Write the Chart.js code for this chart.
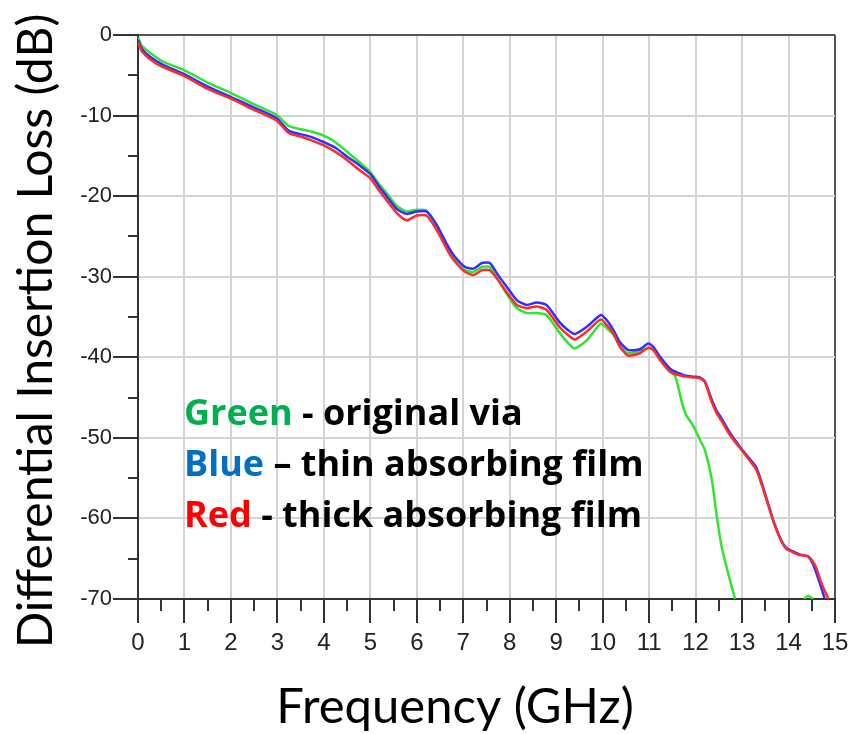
<!DOCTYPE html>
<html>
<head>
<meta charset="utf-8">
<title>Differential Insertion Loss</title>
<script src="https://cdn.jsdelivr.net/npm/chart.js@4.4.0/dist/chart.umd.min.js"></script>
<style>
  html, body { margin: 0; padding: 0; background: #fff; overflow: hidden; }
  #wrap { width: 848px; height: 734px; }
  canvas { display: block; }
</style>
</head>
<body>
<div id="wrap"><canvas id="myChart" width="848" height="734"></canvas></div>
<script>
// frequency sweep points (GHz)
const freqGHz = [0, 0.08, 0.26, 0.54, 0.97, 1.5, 2.0, 2.5, 2.98, 3.25, 3.5, 3.75, 4.0, 4.25, 4.5, 4.75,
    5.0, 5.2, 5.35, 5.57, 5.78, 6.0, 6.21, 6.43, 6.64, 6.79, 7.04, 7.22, 7.4, 7.57, 7.75, 7.93, 8.15,
    8.36, 8.58, 8.79, 9.08, 9.25, 9.4, 9.66, 9.96, 10.09, 10.23, 10.37, 10.55, 10.8, 10.98, 11.09, 11.23,
    11.45, 11.57, 11.7, 11.8, 11.95, 12.09, 12.2, 12.35, 12.45, 12.56, 12.7, 12.85, 12.99, 13.15, 13.31,
    13.5, 13.67, 13.85, 13.96, 14.1, 14.21, 14.33, 14.42, 14.53, 14.6, 14.7, 14.78, 14.86];

// insertion loss in dB (null = below the -70 dB floor)
const originalVia = [-0.3, -1.3, -2.2, -3.3, -4.3, -5.9, -7.2, -8.6, -9.9, -11.3, -11.7, -12.0, -12.5, -13.3, -14.5, -15.7,
    -17.0, -18.6, -19.6, -21.2, -21.9, -21.7, -21.8, -23.6, -26.1, -27.6, -29.2, -29.4, -28.8, -28.8, -30.4, -32.1, -33.9,
    -34.5, -34.5, -34.75, -37.0, -38.2, -38.9, -37.9, -35.8, -36.4, -37.2, -38.5, -39.5, -39.2, -38.9, -39.0, -40.1,
    -41.6, -42.5, -45.5, -47.2, -48.5, -50.2, -51.5, -55.2, -59.5, -63.5, -66.8, -70, null, null, null,
    null, null, null, null, null, null, -70, -69.6, -70, null, null, null, null];

const thinFilm = [-0.6, -1.7, -2.7, -3.7, -4.8, -6.4, -7.7, -9.0, -10.3, -11.9, -12.3, -12.7, -13.3, -14.0, -15.1, -16.1,
    -17.25, -18.9, -20.0, -21.6, -22.2, -21.9, -21.9, -23.6, -25.9, -27.3, -28.8, -29.0, -28.3, -28.3, -29.8, -31.2, -32.9,
    -33.5, -33.2, -33.5, -35.7, -36.6, -37.1, -36.2, -34.75, -35.4, -36.6, -38.1, -39.1, -39.0, -38.3, -38.7, -39.9,
    -41.4, -41.8, -42.1, -42.3, -42.4, -42.5, -43.0, -45.3, -46.6, -47.6, -49.0, -50.3, -51.4, -52.5, -53.7,
    -57.0, -60.2, -62.8, -63.7, -64.1, -64.4, -64.6, -64.7, -65.7, -66.8, -68.5, -70, null];

const thickFilm = [-0.9, -2.0, -3.0, -4.0, -5.0, -6.7, -7.9, -9.3, -10.6, -12.2, -12.6, -13.1, -13.7, -14.5, -15.5, -16.7,
    -17.8, -19.4, -20.5, -22.1, -23.0, -22.4, -22.4, -24.2, -26.5, -27.9, -29.4, -29.8, -29.2, -29.2, -30.4, -31.9, -33.5,
    -33.9, -33.7, -34.1, -36.3, -37.2, -37.8, -36.8, -35.3, -36.0, -37.0, -38.7, -39.8, -39.5, -38.8, -39.1, -40.3,
    -41.8, -42.1, -42.3, -42.4, -42.5, -42.6, -43.1, -45.6, -46.9, -47.9, -49.3, -50.5, -51.5, -52.7, -54.0,
    -57.2, -60.3, -62.9, -63.8, -64.2, -64.5, -64.6, -64.7, -65.4, -66.2, -67.9, -69.0, -70];

const legendRows = [
    ["Green", "#00B050", " - original via"],
    ["Blue", "#0070C0", " \u2013 thin absorbing film"],
    ["Red", "#FF0000", " - thick absorbing film"]
];

const yTitle = "Differential Insertion Loss (dB)";
const xTitle = "Frequency (GHz)";

function toPoints(values) {
    return freqGHz.map((f, i) => ({ x: f, y: values[i] }));
}

const tickFont = "'Liberation Sans Narrow', 'Liberation Sans', Arial, sans-serif";
const textFont = "Lato, 'Open Sans', sans-serif";
const keyFont = "'Open Sans', Lato, sans-serif";

// minor ticks, axis titles and the in-plot key
const overlay = {
    id: "overlay",
    afterDraw(chart) {
        const ctx = chart.ctx;
        const xs = chart.scales.x;
        const ys = chart.scales.y;
        ctx.save();

        ctx.strokeStyle = "#333";
        ctx.lineWidth = 2;
        ctx.beginPath();
        for (let v = 0.5; v < 15; v += 1) {
            const px = Math.round(xs.getPixelForValue(v));
            ctx.moveTo(px, xs.top);
            ctx.lineTo(px, xs.top + 12);
        }
        for (let v = -5; v > -70; v -= 10) {
            const py = Math.round(ys.getPixelForValue(v));
            ctx.moveTo(ys.right - 10, py);
            ctx.lineTo(ys.right, py);
        }
        ctx.stroke();

        ctx.fillStyle = "#000";
        ctx.textAlign = "center";
        ctx.textBaseline = "middle";
        ctx.font = "49px " + textFont;
        ctx.fillText(xTitle, 455, 707);

        ctx.save();
        ctx.translate(37, 331);
        ctx.rotate(-Math.PI / 2);
        ctx.font = "48px " + textFont;
        ctx.fillText(yTitle, 0, 0);
        ctx.restore();

        ctx.font = "bold 36px " + keyFont;
        ctx.textAlign = "left";
        ctx.textBaseline = "alphabetic";
        legendRows.forEach((row, i) => {
            const y = 425 + i * 51;
            ctx.fillStyle = row[1];
            ctx.fillText(row[0], 184, y);
            const w = ctx.measureText(row[0]).width;
            ctx.fillStyle = "#000";
            ctx.fillText(row[2], 184 + w, y);
        });

        ctx.restore();
    }
};

const ctx = document.getElementById("myChart").getContext("2d");
const myChart = new Chart(ctx, {
    type: "line",
    data: {
        datasets: [
            {
                label: "Green - original via",
                data: toPoints(originalVia),
                borderColor: "#2fe52f",
                borderWidth: 2.5,
                order: 3
            },
            {
                label: "Blue - thin absorbing film",
                data: toPoints(thinFilm),
                borderColor: "#2f2fff",
                borderWidth: 2.5,
                order: 2
            },
            {
                label: "Red - thick absorbing film",
                data: toPoints(thickFilm),
                borderColor: "#ff2b2b",
                borderWidth: 2.5,
                order: 1
            }
        ]
    },
    options: {
        responsive: false,
        animation: false,
        spanGaps: false,
        layout: { autoPadding: false, padding: { top: 35, right: 13, left: 0, bottom: 0 } },
        elements: {
            point: { radius: 0 },
            line: { tension: 0.2 }
        },
        plugins: {
            legend: { display: false },
            tooltip: { enabled: false }
        },
        scales: {
            x: {
                type: "linear",
                min: 0,
                max: 15,
                afterFit: (scale) => {
                    scale.height = 135;
                    scale.paddingLeft = 0;
                    scale.paddingRight = 0;
                },
                border: { display: true, color: "#333", width: 2 },
                grid: {
                    color: (c) => (c.tick && c.tick.value === 15 ? "#555" : "#d4d4d4"),
                    lineWidth: 2,
                    tickColor: "#333",
                    tickLength: 24
                },
                ticks: {
                    stepSize: 1,
                    autoSkip: false,
                    maxRotation: 0,
                    padding: 6,
                    color: "#222",
                    font: { family: tickFont, size: 24 }
                }
            },
            y: {
                type: "linear",
                min: -70,
                max: 0,
                afterFit: (scale) => {
                    scale.width = 138;
                    scale.paddingTop = 0;
                    scale.paddingBottom = 0;
                },
                border: { display: true, color: "#333", width: 2 },
                grid: {
                    color: (c) => (c.tick && c.tick.value === 0 ? "#555" : "#d4d4d4"),
                    lineWidth: 2,
                    tickColor: "#333",
                    tickLength: 25
                },
                ticks: {
                    stepSize: 10,
                    padding: 1,
                    color: "#222",
                    font: { family: tickFont, size: 22 }
                }
            }
        }
    },
    plugins: [overlay]
});
</script>
</body>
</html>
